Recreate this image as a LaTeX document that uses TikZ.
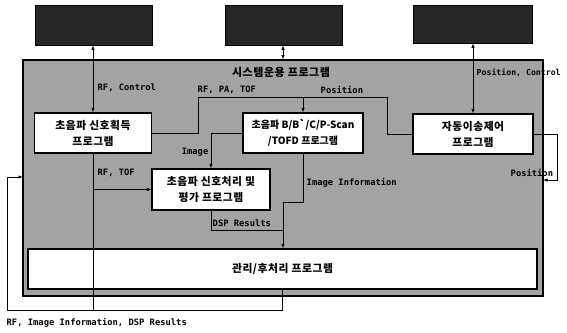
\documentclass[tikz,border=0pt]{standalone}
\usepackage{fontspec}
\newfontfamily\kr{Noto Sans CJK KR}[LetterSpace=5]
\newfontfamily\krn{Noto Sans CJK KR}
\newfontfamily\lab{DejaVu Sans Mono}
\usetikzlibrary{arrows.meta}
\begin{document}
\begin{tikzpicture}[x=1pt,y=-1pt,
  topbox/.style={draw=black,fill=black!85,line width=0.8pt,minimum width=117pt,minimum height=40pt,inner sep=0pt},
  progbox/.style={draw=black,fill=white,line width=1.3pt,align=center,inner sep=0pt,font=\kr\bfseries\fontsize{10.8}{16}\selectfont},
  panelbox/.style={draw=black,fill=black!36,line width=1.2pt,inner sep=0pt},
  conn/.style={draw=black,line width=0.8pt},
  arr/.style={conn,-{Latex[length=4.5pt,width=3.5pt]}},
  darr/.style={conn,{Latex[length=4.5pt,width=3.5pt]}-{Latex[length=4.5pt,width=3.5pt]}},
  lbl/.style={font=\lab\bfseries\fontsize{8.8}{10}\selectfont,inner sep=0.5pt},
  ttl/.style={font=\kr\bfseries\fontsize{11}{12}\selectfont,inner sep=0pt}]
\useasboundingbox (0,0) rectangle (567,332);
% top external boxes
\node[topbox] (top1) at (93.5,25) {};
\node[topbox] (top2) at (283.5,25) {};
\node[topbox,minimum width=119pt,minimum height=38pt] (top3) at (472.5,24) {};
% panel
\node[panelbox,minimum width=520pt,minimum height=236pt] (panel) at (283,178) {};
\node[ttl] (ptitle) at (281,72) {시스템운용 프로그램};
% program boxes
\node[progbox,minimum width=117pt,minimum height=40pt] (A) at (93,133) {초음파 신호획득\\프로그램};
\node[progbox,minimum width=120pt,minimum height=40pt,font=\krn\bfseries\fontsize{10}{16}\selectfont] (B) at (303,133) {초음파 B/B`/C/P-Scan\\/TOFD 프로그램};
\node[progbox,minimum width=120pt,minimum height=40pt] (C) at (473,134) {자동이송제어\\프로그램};
\node[progbox,minimum width=118pt,minimum height=41pt] (D) at (211,189.5) {초음파 신호처리 및\\평가 프로그램};
\node[progbox,minimum width=509pt,minimum height=40pt] (E) at (282.5,269) {관리/후처리 프로그램};
% coordinates
\coordinate (j1) at (198,97);
\coordinate (j2) at (387,97);
\coordinate (m1) at (283,202);
\coordinate (m2) at (283,230);
\coordinate (b1) at (7,310);
\coordinate (b2) at (23,177);
\coordinate (r1) at (557,180);
\coordinate (r2) at (543,180);
\coordinate (t1) at (93,189.5);
% connectors
\draw[darr] (top1.south -| A.north) -- (A.north);
\draw[darr] (top2.south -| panel.north) -- (panel.north);
\draw[darr] (top3.south -| C.north) -- (C.north);
\draw[conn] (A.east) -| (j1) -- (j2) |- (C.west);
\draw[arr] (B.north |- j1) -- (B.north);
\draw[arr] (B.west) -| (D.north);
\draw[arr] (B.south) |- (m1) -- (m1 |- E.north);
\draw[conn] (D.south) |- (m2);
\draw[conn] (A.south) -- (A.south |- b1);
\draw[arr] (t1) -- (D.west);
\draw[arr] (E.south) |- (b1) |- (b2);
\draw[arr] (C.east) -| (r1) -- (r2);
% labels
\node[lbl,anchor=west] (l1) at (97,88) {RF, Control};
\node[lbl,anchor=west,font=\lab\bfseries\fontsize{8.2}{10}\selectfont] (l2) at (476,73) {Position, Control};
\node[lbl,anchor=west] (l3) at (197,90) {RF, PA, TOF};
\node[lbl,anchor=west] (l4) at (320,90) {Position};
\node[lbl,anchor=east] (l5) at (209,152) {Image};
\node[lbl,anchor=west] (l6) at (306,183) {Image Information};
\node[lbl,anchor=west] (l7) at (97,173) {RF, TOF};
\node[lbl,anchor=west] (l8) at (212,223) {DSP Results};
\node[lbl,anchor=west] (l9) at (510,173) {Position};
\node[lbl,anchor=west] (l10) at (6,323) {RF, Image Information, DSP Results};
\end{tikzpicture}
\end{document}
